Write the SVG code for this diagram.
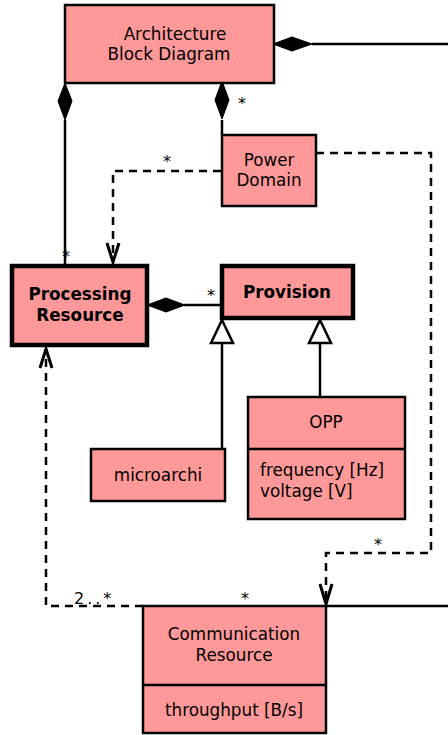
<svg xmlns="http://www.w3.org/2000/svg" width="448" height="735" viewBox="0 0 448 735">
<style>
.box{fill:#ff9999;stroke:#000;stroke-width:2.5}
.thick{fill:#ff9999;stroke:#000;stroke-width:4.5}
text{font-family:"DejaVu Sans",sans-serif;font-size:16.8px;fill:#000}
.c{text-anchor:middle}
.b{font-weight:bold}
.m{font-size:16px}
.ln{fill:none;stroke:#000;stroke-width:2.5}
.ah{fill:none;stroke:#000;stroke-width:3}
.dash{fill:none;stroke:#000;stroke-width:2.5;stroke-dasharray:8,6}
.dia{fill:#000;stroke:#000;stroke-width:1}
.tri{fill:#fff;stroke:#000;stroke-width:2.5}
</style>
<g id="connectors">
<line class="ln" x1="312" y1="44" x2="448" y2="44"/>
<polygon class="dia" points="273,44 292,37 312,44 292,51"/>
<line class="ln" x1="65" y1="120" x2="65" y2="265"/>
<polygon class="dia" points="65,83 72,101 65,120 58,101"/>
<line class="ln" x1="222" y1="120" x2="222" y2="135"/>
<polygon class="dia" points="222,81 229,100 222,119 215,100"/>
<polyline class="dash" points="221,171 113,171 113,262"/>
<polyline class="ah" points="107,243 113,262 119,243"/>
<polyline class="dash" points="316,153 431,153 431,553 326,553 326,604"/>
<polyline class="ah" points="320,584 326,604 332,584"/>
<line class="ln" x1="184" y1="305" x2="221" y2="305"/>
<polygon class="dia" points="147,305 166,298 185,305 166,312"/>
<line class="ln" x1="222" y1="343" x2="222" y2="449"/>
<polygon class="tri" points="222,320 233,343 211,343"/>
<line class="ln" x1="320" y1="343" x2="320" y2="397"/>
<polygon class="tri" points="320,320 331,343 309,343"/>
<polyline class="dash" points="143,606 46,606 46,349"/>
<polyline class="ah" points="40,368 46,349 52,368"/>
<line class="ln" x1="326" y1="606" x2="448" y2="606"/>
<text class="m" x="66" y="262" text-anchor="middle">*</text>
<text class="m" x="242" y="109" text-anchor="middle">*</text>
<text class="m" x="167" y="167" text-anchor="middle">*</text>
<text class="m" x="211" y="301" text-anchor="middle">*</text>
<text class="m" x="378" y="550" text-anchor="middle">*</text>
<text class="m" x="245" y="604" text-anchor="middle">*</text>
<text class="m" x="74" y="604" letter-spacing="3">2..*</text>
</g>
<g id="architecture-block-diagram">
<rect class="box" x="65" y="5" width="209" height="78"/>
<text class="c" x="175" y="40">Architecture</text>
<text class="c" x="169" y="60">Block Diagram</text>
</g>
<g id="power-domain">
<rect class="box" x="222" y="135" width="94" height="71"/>
<text class="c" x="269" y="166">Power</text>
<text class="c" x="269" y="186">Domain</text>
</g>
<g id="processing-resource">
<rect class="thick" x="12" y="266" width="135" height="79"/>
<text class="c b" x="80" y="300">Processing</text>
<text class="c b" x="80" y="321">Resource</text>
</g>
<g id="provision">
<rect class="thick" x="222" y="266" width="131" height="52"/>
<text class="c b" x="287" y="298">Provision</text>
</g>
<g id="microarchi">
<rect class="box" x="91" y="449" width="134" height="52"/>
<text class="c" x="158" y="481">microarchi</text>
</g>
<g id="opp">
<rect class="box" x="248" y="397" width="157" height="122"/>
<line class="ln" x1="248" y1="449" x2="405" y2="449"/>
<text class="c" x="326" y="428">OPP</text>
<text x="260" y="476">frequency [Hz]</text>
<text x="260" y="497">voltage [V]</text>
</g>
<g id="communication-resource">
<rect class="box" x="143" y="606" width="183" height="127"/>
<line class="ln" x1="143" y1="685" x2="326" y2="685"/>
<text class="c" x="234" y="640">Communication</text>
<text class="c" x="234" y="661">Resource</text>
<text class="c" x="234" y="716">throughput [B/s]</text>
</g>
</svg>
